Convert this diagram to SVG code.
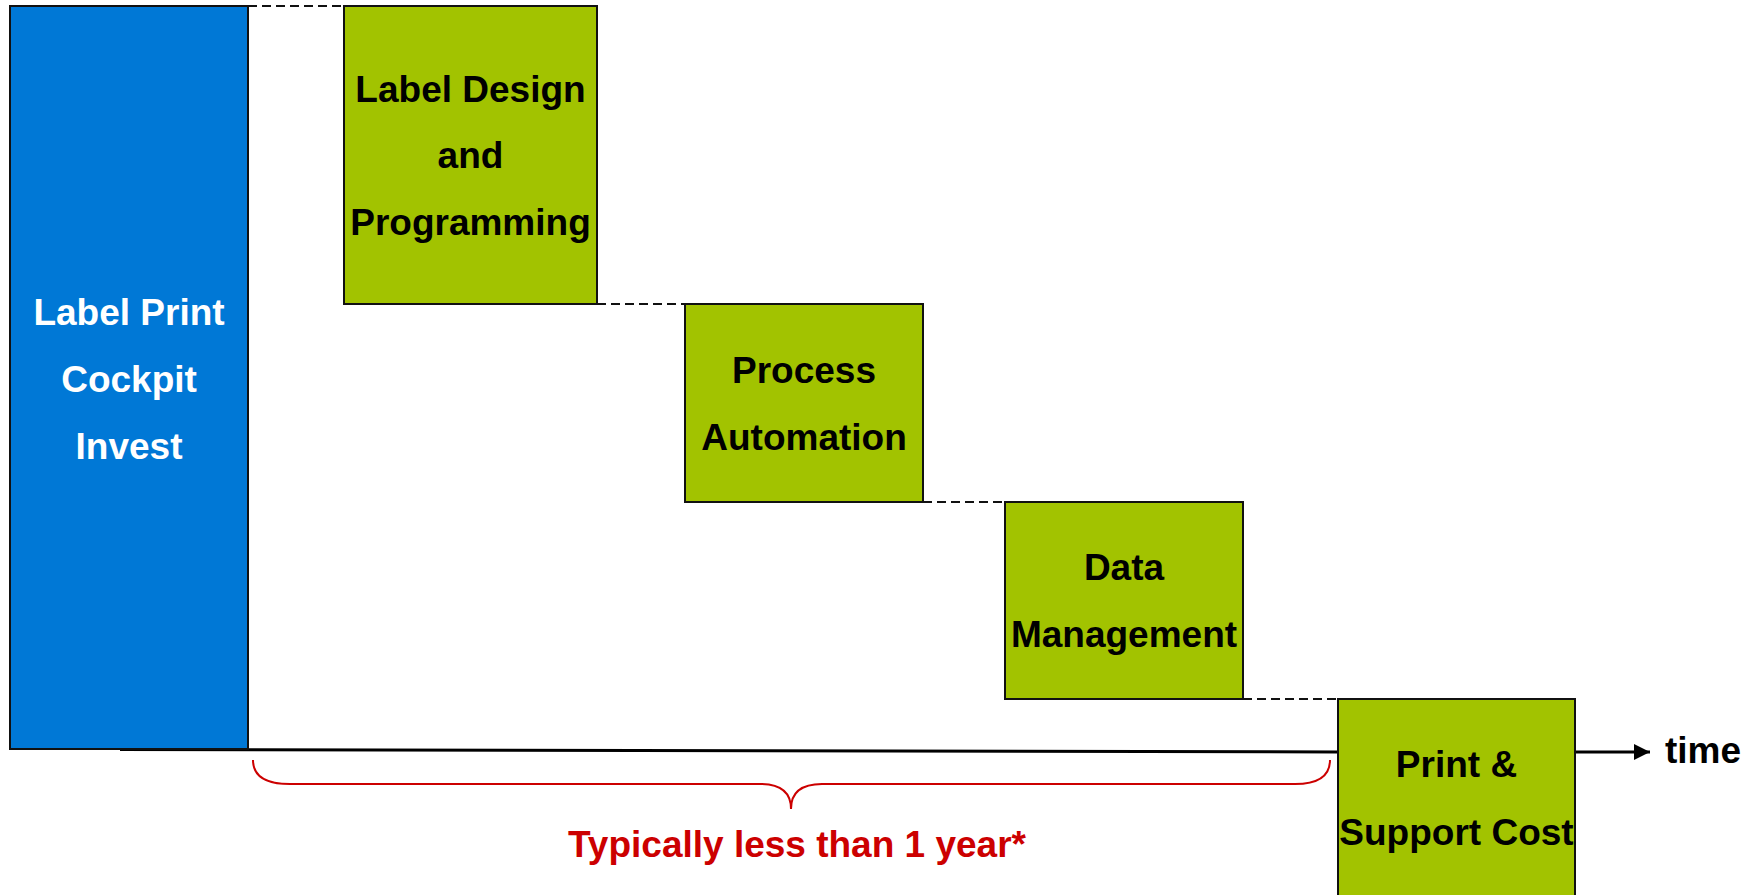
<svg xmlns="http://www.w3.org/2000/svg" width="1754" height="895" viewBox="0 0 1754 895">
<defs>
<style>
.box{fill:#A2C300;stroke:#111;stroke-width:2}
.blue{fill:#0078D6;stroke:#111;stroke-width:2}
.t{font-family:"Liberation Sans",Arial,sans-serif;font-weight:bold;font-size:37px;text-anchor:middle;fill:#000}
.w{fill:#fff}
.dash{stroke:#111;stroke-width:2;stroke-dasharray:9 5;fill:none}
</style>
<marker id="arr" viewBox="0 0 10 10" refX="10" refY="5" markerWidth="5.5" markerHeight="5.5" orient="auto" markerUnits="strokeWidth">
<path d="M0,0 L10,5 L0,10 z" fill="#000"/>
</marker>
</defs>
<rect width="1754" height="895" fill="#fff"/>
<g id="connectors">
<line class="dash" x1="248" y1="6" x2="344" y2="6"/>
<line class="dash" x1="597" y1="304" x2="685" y2="304"/>
<line class="dash" x1="923" y1="502" x2="1005" y2="502"/>
<line class="dash" x1="1243" y1="699" x2="1338" y2="699"/>
<line x1="120" y1="749.5" x2="1338" y2="752" stroke="#000" stroke-width="3"/>
<line x1="1575" y1="752" x2="1650" y2="752" stroke="#000" stroke-width="3" marker-end="url(#arr)"/>
<path d="M253,760 C253,776 265,784 290,784 L760,784 C780,784 791,792 791,809 C791,792 802,784 822,784 L1295,784 C1318,784 1330,776 1330,760" fill="none" stroke="#CC0000" stroke-width="2"/>
</g>
<g id="invest">
<rect class="blue" x="10" y="6" width="238" height="743"/>
<text class="t w" x="129" y="325">Label Print</text>
<text class="t w" x="129" y="392">Cockpit</text>
<text class="t w" x="129" y="459">Invest</text>
</g>
<g id="design">
<rect class="box" x="344" y="6" width="253" height="298"/>
<text class="t" x="470.5" y="102">Label Design</text>
<text class="t" x="470.5" y="168">and</text>
<text class="t" x="470.5" y="235">Programming</text>
</g>
<g id="automation">
<rect class="box" x="685" y="304" width="238" height="198"/>
<text class="t" x="804" y="383">Process</text>
<text class="t" x="804" y="450">Automation</text>
</g>
<g id="data">
<rect class="box" x="1005" y="502" width="238" height="197"/>
<text class="t" x="1124" y="580">Data</text>
<text class="t" x="1124" y="647">Management</text>
</g>
<g id="print">
<rect class="box" x="1338" y="699" width="237" height="210"/>
<text class="t" x="1456.5" y="777">Print &amp;</text>
<text class="t" x="1456.5" y="845">Support Cost</text>
</g>
<g id="time">
<text class="t" x="1665" y="763" style="text-anchor:start">time</text>
</g>
<g id="note">
<text class="t" x="797" y="857" style="fill:#CC0000">Typically less than 1 year*</text>
</g>
</svg>
